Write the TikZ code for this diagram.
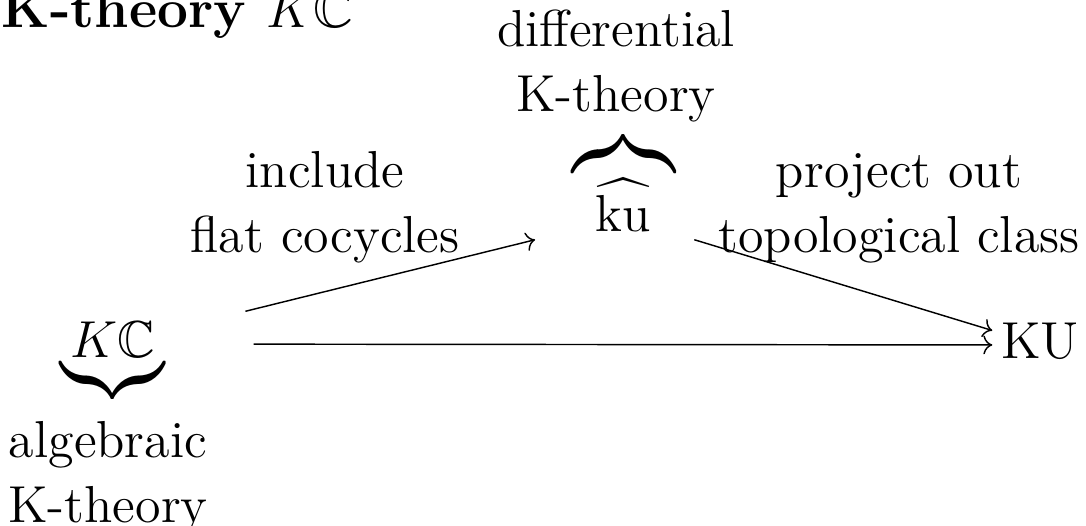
\documentclass[tikz,border=0pt]{standalone}
\usepackage{amsmath,amssymb,graphicx}
\usetikzlibrary{arrows.meta}
\begin{document}
\begin{tikzpicture}[x=0.2769pt,y=-0.2769pt,
  every node/.style={font=\Large, inner sep=0pt},
  lbl/.style={anchor=base},
  obj/.style={anchor=center, text height=7.2pt, text depth=0pt},
  arr/.style={-{To}, line width=0.4pt}]
\useasboundingbox (0,0) rectangle (1086,525);
\node[anchor=base west, font=\fontsize{15.2}{18}\selectfont\bfseries] (title) at (1,28) {K-theory $K\mathbb{C}$};
% objects
\node[obj, minimum width=77.53pt, minimum height=17.72pt] (KC) at (113,344) {$K\mathbb{C}$};
\node[obj, minimum width=55.4pt, minimum height=11.63pt] (ku) at (623,218) {$\widehat{\mathrm{ku}}$};
\node[obj, minimum width=26.03pt, minimum height=11.08pt] (KU) at (1040,345) {$\mathrm{KU}$};
% braces
\node (kubrace) at (623.5,154) {\resizebox{28.5pt}{!}{\scalebox{1}[1.25]{\hbox{\downbracefill}}}};
\node (kcbrace) at (112.5,380) {\resizebox{29pt}{!}{\scalebox{1}[1.2]{\hbox{\upbracefill}}}};
% labels
\node[lbl] (difflbl) at (616,46) {\begin{tabular}[t]{@{}c@{}}differential\\K-theory\end{tabular}};
\node[lbl] (alglbl) at (108,457) {\begin{tabular}[t]{@{}c@{}}algebraic\\K-theory\end{tabular}};
\node[lbl] (inclbl) at (325,187) {\begin{tabular}[t]{@{}c@{}}include\\flat cocycles\end{tabular}};
\node[lbl] (projlbl) at (899,187) {\begin{tabular}[t]{@{}c@{}}project out\\topological class\end{tabular}};
% arrows
\draw[arr] (KC) -- (ku);
\draw[arr] (ku) -- (KU);
\draw[arr] (KC) -- (KU);
\end{tikzpicture}
\end{document}
